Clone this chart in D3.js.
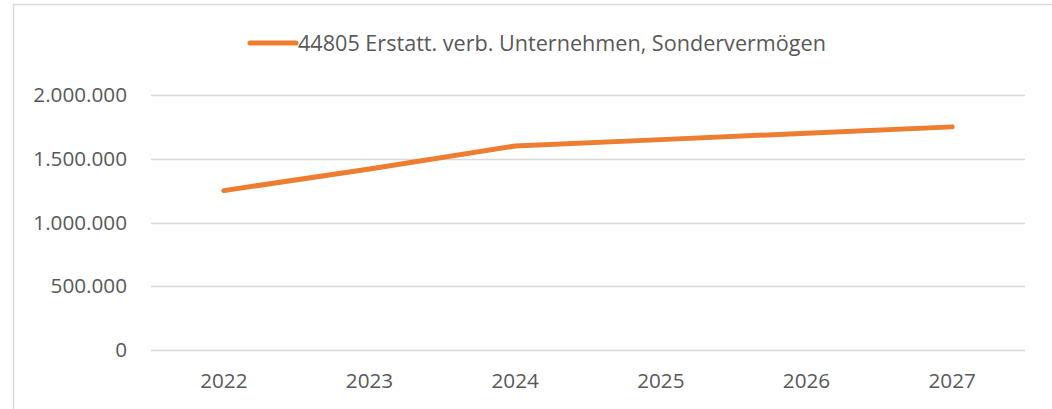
<!DOCTYPE html>
<html>
<head>
<meta charset="utf-8">
<script src="https://cdn.jsdelivr.net/npm/d3@7"></script>
<style>
  body { margin: 0; background: #fff; }
  svg { display: block; font-family: "Open Sans", sans-serif; }
</style>
</head>
<body>
<svg id="chart" width="1052" height="409"></svg>
<script>
const years = ["2022", "2023", "2024", "2025", "2026", "2027"];
const values = [1250000, 1420000, 1600000, 1650000, 1700000, 1750000];
const yTicks = [0, 500000, 1000000, 1500000, 2000000];
const seriesName = "44805 Erstatt. verb. Unternehmen, Sondervermögen";

const svg = d3.select("#chart");
const margin = {top: 95, left: 151, right: 27, bottom: 59};
const width = 1052 - margin.left - margin.right,
  height = 409 - margin.top - margin.bottom;
const font = "'Open Sans', sans-serif";

// chart frame (extends past the window on the right and bottom)
svg.append("rect")
  .attr("x", 13.5).attr("y", 4.5)
  .attr("width", 1100).attr("height", 500)
  .attr("fill", "none").attr("stroke", "#d9d9d9").attr("stroke-width", 1.5);

const g = svg.append("g")
  .attr("transform", "translate(" + margin.left + "," + margin.top + ")");

let x = d3.scaleBand().domain(years).range([0, width]);
let y = d3.scaleLinear().domain([0, 2000000]).range([height, 0]);

const fmt = d => d3.format(",")(d).replace(/,/g, ".");

// gridlines
g.append("g")
  .selectAll("line")
  .data(yTicks)
  .join("line")
  .attr("x1", 0).attr("x2", width)
  .attr("y1", d => Math.round(y(d)) + 0.5)
  .attr("y2", d => Math.round(y(d)) + 0.5)
  .attr("stroke", "#d9d9d9").attr("stroke-width", 1.5);

// y axis labels
let yAxis = d3.axisLeft(y).tickValues(yTicks).tickFormat(fmt).tickSize(0).tickPadding(24);
g.append("g").call(yAxis)
  .call(s => s.select(".domain").remove())
  .selectAll("text")
  .attr("fill", "#595959").style("font-size", "20.7px")
  .style("font-family", font);

// x axis labels
let xAxis = d3.axisBottom(x).tickSize(0).tickPadding(23);
g.append("g").attr("transform", "translate(0," + height + ")").call(xAxis)
  .call(s => s.select(".domain").remove())
  .selectAll("text")
  .attr("fill", "#595959").style("font-size", "20.7px")
  .style("font-family", font);

// line
const line = d3.line()
  .x((d, i) => x(years[i]) + x.bandwidth() / 2)
  .y(d => y(d));

g.append("path")
  .datum(values)
  .attr("d", line)
  .attr("fill", "none")
  .attr("stroke", "#ED7D31")
  .attr("stroke-width", 5)
  .attr("stroke-linecap", "round")
  .attr("stroke-linejoin", "round");

// legend
const legend = svg.append("g").attr("transform", "translate(250,43)");
legend.append("line")
  .attr("x1", 0).attr("x2", 46)
  .attr("stroke", "#ED7D31").attr("stroke-width", 5).attr("stroke-linecap", "round");
legend.append("text")
  .attr("x", 48).attr("dy", "0.35em")
  .attr("fill", "#595959").style("font-size", "21.6px")
  .text(seriesName);
</script>
</body>
</html>
